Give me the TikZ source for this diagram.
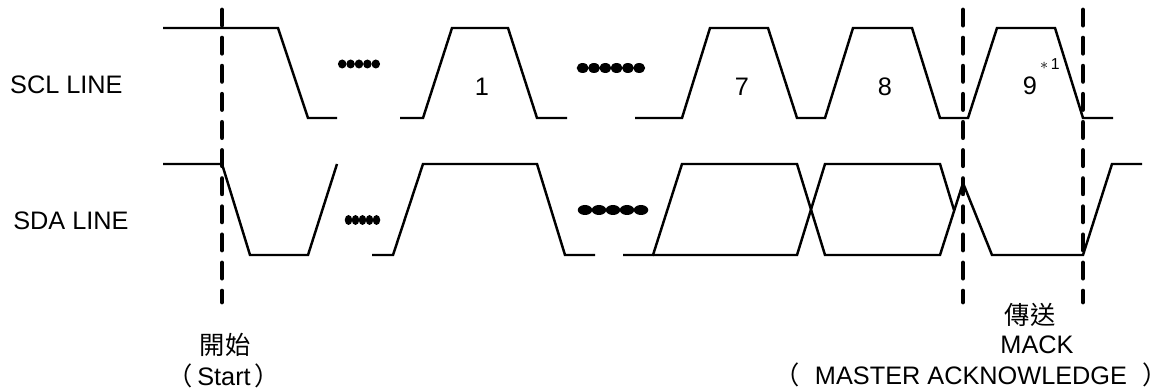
\documentclass[tikz,border=0pt]{standalone}
\usepackage{fontspec}
\setmainfont{Liberation Sans}
\newfontfamily\cjkfont{Noto Sans CJK TC}

\begin{document}
\begin{tikzpicture}[x=0.02cm, y=-0.02cm,
  sig/.style={line width=1.4pt, line join=miter},
  tline/.style={line width=2.8pt, line cap=round, dash pattern=on 8.6pt off 7.4pt},
  lbl/.style={font=\fontsize{14.4}{17}\selectfont, inner sep=0pt},
  note/.style={font=\fontsize{9}{10}\selectfont, inner sep=0pt}
]
\useasboundingbox (0,0) rectangle (1173,391);

% Line names
\node[lbl, anchor=east] (scl) at (123,85)  {SCL LINE};
\node[lbl, anchor=east] (sda) at (129,221) {SDA LINE};

% SCL waveform
\draw[sig] (163,28) -- (278,28) -- (308,118) -- (337,118);
\draw[sig] (400,118) -- (423,118) -- (452,28) -- (508,28) -- (537,118) -- (567,118);
\draw[sig] (635,118) -- (682,118) -- (710,28) -- (768,28) -- (797,118) -- (825,118)
  -- (853,28) -- (912,28) -- (940,118) -- (968,118) -- (997,28) -- (1055,28)
  -- (1083,118) -- (1113,118);

% SDA waveform
\draw[sig] (163,164) -- (222,164) -- (250,255) -- (308,255) -- (337,164);
\draw[sig] (372,255) -- (393,255) -- (423,164) -- (537,164) -- (565,255) -- (595,255);
\draw[sig] (623,255) -- (653,255) -- (682,164) -- (797,164) -- (825,255) -- (940,255)
  -- (963,183) -- (992,255) -- (1083,255) -- (1112,164) -- (1142,164);
\draw[sig] (653,255) -- (797,255) -- (825,164) -- (940,164) -- (954,210);

% Skipped bits
\foreach \i in {0,...,4}
  \fill ({342.2+8.4*\i},64) ellipse [x radius=0.085cm, y radius=0.09cm];
\foreach \i in {0,...,5}
  \fill ({582.7+11.3*\i},68) ellipse [x radius=0.12cm, y radius=0.1cm];
\foreach \i in {0,...,4}
  \fill ({348.5+7*\i},220) ellipse [x radius=0.075cm, y radius=0.1cm];
\foreach \i in {0,...,4}
  \fill ({585+14*\i},210) ellipse [x radius=0.145cm, y radius=0.1cm];

% Bit numbers
\node[lbl] (b1) at (482,87)  {1};
\node[lbl] (b7) at (742,87)  {7};
\node[lbl] (b8) at (885,87)  {8};
\node[lbl] (b9) at (1030,86) {9};
\node[note] (n1) at (1050,64) {$\ast$\,1};

% Markers
\draw[tline] (222,10) -- (222,302);
\draw[tline] (963,10) -- (963,302);
\draw[tline] (1083,10) -- (1083,302);

% Captions
\node[lbl] (start)  at (225,345) {\cjkfont 開始};
\node[lbl] (starte) at (224,376) {{\cjkfont （}\,Start\,{\cjkfont ）}};
\node[lbl] (send)   at (1030,315) {\cjkfont 傳送};
\node[lbl] (mack)   at (1037,345) {MACK};
\node[lbl] (macke)  at (971,375) {{\cjkfont （}\hspace{0.6em}MASTER ACKNOWLEDGE\hspace{0.6em}{\cjkfont ）}};
\end{tikzpicture}
\end{document}
